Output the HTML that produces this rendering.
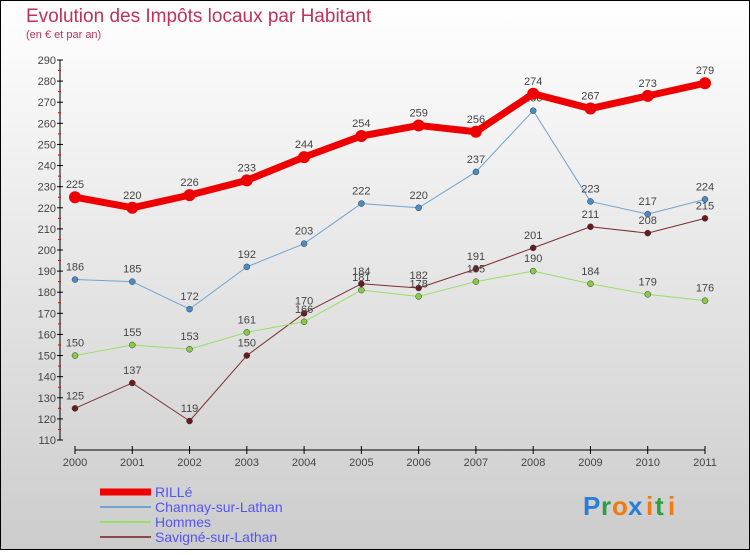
<!DOCTYPE html>
<html><head><meta charset="utf-8"><style>
html,body{margin:0;padding:0}
body{width:750px;height:550px;overflow:hidden;font-family:"Liberation Sans",sans-serif}
svg text{font-family:"Liberation Sans",sans-serif}
</style></head><body>
<svg id="chart" width="750" height="550" xmlns="http://www.w3.org/2000/svg">
<defs><linearGradient id="bg" x1="0" y1="0" x2="0" y2="1"><stop offset="0" stop-color="#ffffff"/><stop offset="1" stop-color="#cccccc"/></linearGradient></defs>
<rect x="0.5" y="0.5" width="749" height="549" fill="url(#bg)" stroke="#000"/>
<text x="26" y="22" font-size="19" fill="#c0305a">Evolution des Impôts locaux par Habitant</text>
<text x="26" y="38" font-size="11" fill="#c0305a">(en € et par an)</text>
<g id="axes"></g><g id="series"></g><g id="legend"></g>
<g font-size="26" font-weight="bold">
<text x="583" y="515" fill="#2a7fd4">P</text><text x="601" y="515" fill="#2aa040">r</text><text x="612" y="515" fill="#f07a10">o</text><text x="628" y="515" fill="#2a7fd4">x</text><text x="646" y="515" fill="#f07a10">i</text><text x="655" y="515" fill="#2aa040">t</text><text x="668" y="515" fill="#f07a10">i</text>
</g>
</svg>
<script>
const years=[2000,2001,2002,2003,2004,2005,2006,2007,2008,2009,2010,2011];
const rille=[225,220,226,233,244,254,259,256,274,267,273,279];
const channay=[186,185,172,192,203,222,220,237,266,223,217,224];
const hommes=[150,155,153,161,166,181,178,185,190,184,179,176];
const savigne=[125,137,119,150,170,184,182,191,201,211,208,215];
const yTicks=[110,120,130,140,150,160,170,180,190,200,210,220,230,240,250,260,270,280,290];
const NS="http://www.w3.org/2000/svg";
const x=i=>75+i*(630/11);
const y=v=>60+(290-v)*(380/180);
function mk(p,tag,a){const e=document.createElementNS(NS,tag);for(const k in a)e.setAttribute(k,a[k]);p.appendChild(e);return e;}
const ax=document.getElementById('axes');
let yl=mk(ax,'line',{x1:60,y1:y(290),x2:60,y2:y(110),stroke:'#000'});


yTicks.forEach(v=>{
 mk(ax,'line',{x1:57,y1:y(v),x2:63,y2:y(v),stroke:'#000'});
 if(v<290){const m=mk(ax,'line',{x1:58,y1:y(v+5),x2:61,y2:y(v+5),stroke:'#e00'});}
 const t=mk(ax,'text',{x:56,y:y(v)+4,'text-anchor':'end','font-size':11,fill:'#444'});
 
 
 t.textContent=v;
});
let xl=mk(ax,'line',{x1:75,y1:450,x2:705,y2:450,stroke:'#000'});


years.forEach((yr,i)=>{
 mk(ax,'line',{x1:x(i),y1:446,x2:x(i),y2:454,stroke:'#000'});
 const t=mk(ax,'text',{x:x(i),y:466,'text-anchor':'middle','font-size':11,fill:'#444'});
 
 
 t.textContent=yr;
});
const S=document.getElementById('series');
function series(name,data,color,dot,w,r){
 const g=mk(S,'g',{});
 
 
 const pl=mk(g,'polyline',{points:data.map((v,i)=>x(i)+','+y(v)).join(' '),fill:'none',stroke:color,'stroke-width':w,'stroke-linejoin':'round'});
 
 
 data.forEach((v,i)=>{
  const c=mk(g,'circle',{cx:x(i),cy:y(v),r:r,fill:dot,stroke:r>4?'none':'#333','stroke-width':0.5});
  
  
  const t=mk(g,'text',{x:x(i),y:y(v)-9,'text-anchor':'middle','font-size':11,fill:'#444'});
  
  
  t.textContent=v;
 });
}
series('savigne',savigne,'#7a3030','#6a1a1a',1,3);
series('hommes',hommes,'#99dd66','#88cc44',1,3);
series('channay',channay,'#6fa3d0','#4a8cc8',1,3);
series('rille',rille,'#ee0000','#ee0000',7,6);
const L=document.getElementById('legend');
[['RILLé','#ee0000',7],['Channay-sur-Lathan','#6fa3d0',2],['Hommes','#99dd66',2],['Savigné-sur-Lathan','#8a4a4a',2]].forEach((d,i)=>{
 const g=mk(L,'g',{});
 
 
 const yy=492+i*15;
 mk(g,'line',{x1:100,y1:yy,x2:151,y2:yy,stroke:d[1],'stroke-width':d[2]});
 const t=mk(g,'text',{x:155,y:yy+5,'font-size':14,fill:'#5555ee'});
 t.textContent=d[0];
});
</script>
</body></html>
